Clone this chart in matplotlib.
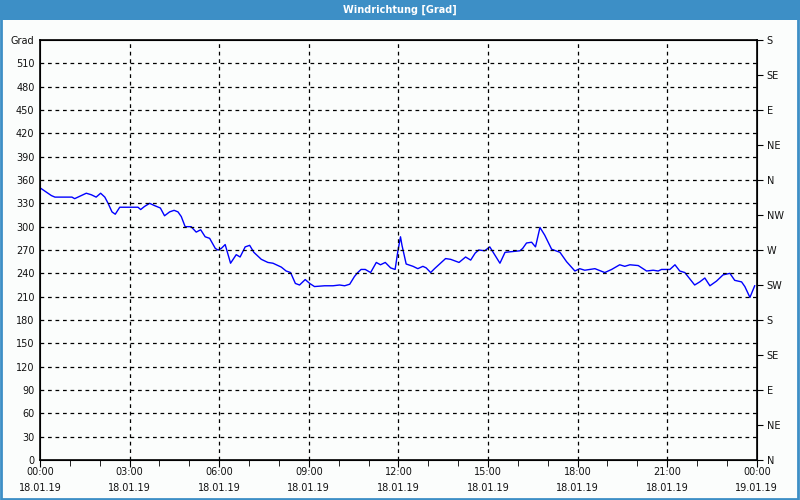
import numpy as np
import matplotlib
matplotlib.use('agg')
import matplotlib.pyplot as plt
from matplotlib.patches import Rectangle

# wind direction samples, hours after 18.01.19 00:00
hours = [0.0, 0.38, 0.50, 1.07, 1.16, 1.55, 1.72, 1.88, 2.03, 2.17, 2.28, 2.41, 2.52, 2.67,
         3.00, 3.28, 3.37, 3.50, 3.67, 3.84, 4.03, 4.17, 4.34, 4.49, 4.62, 4.73, 4.86, 5.06,
         5.23, 5.38, 5.53, 5.68, 5.87, 5.96, 6.07, 6.20, 6.38, 6.57, 6.70, 6.87, 7.02, 7.16,
         7.41, 7.63, 7.80, 8.08, 8.24, 8.39, 8.55, 8.69, 8.88, 9.03, 9.19, 9.53, 9.81, 10.03,
         10.20, 10.37, 10.53, 10.64, 10.75, 10.89, 11.07, 11.26, 11.40, 11.56, 11.74, 11.89,
         11.98, 12.07, 12.12, 12.26, 12.49, 12.65, 12.82, 12.93, 13.08, 13.21, 13.38, 13.58,
         13.75, 14.03, 14.25, 14.42, 14.57, 14.69, 14.89, 15.06, 15.40, 15.57, 16.07, 16.16,
         16.29, 16.46, 16.59, 16.74, 16.90, 17.13, 17.41, 17.63, 17.91, 18.07, 18.24, 18.58,
         18.91, 19.14, 19.41, 19.58, 19.75, 20.03, 20.31, 20.53, 20.70, 20.81, 21.09, 21.26,
         21.42, 21.59, 21.92, 22.09, 22.26, 22.43, 22.65, 22.87, 23.10, 23.26, 23.49, 23.60,
         23.77, 23.93]
grad = [350, 340, 338, 338, 336, 343, 341, 338, 343, 338, 330, 319, 316, 325,
        325, 325, 322, 326, 330, 327, 324, 314, 319, 321, 319, 313, 300, 300,
        293, 296, 287, 285, 272, 270, 272, 277, 253, 264, 261, 274, 276, 267,
        258, 254, 253, 248, 243, 241, 227, 225, 232, 227, 223, 224, 224, 225,
        224, 226, 236, 241, 245, 245, 241, 254, 251, 254, 247, 245,
        268, 287, 276, 252, 249, 246, 249, 247, 241, 246, 252, 259,
        258, 254, 261, 257, 266, 270, 269, 274, 253, 267, 269, 272,
        279, 280, 274, 299, 289, 271, 267, 255, 243, 246, 244, 246,
        241, 245, 251, 249, 251, 250, 243, 244, 243, 245, 245, 251,
        243, 241, 225, 229, 234, 224, 230, 238, 240, 231, 229, 223,
        209, 224]

xticks = list(range(0, 25, 3))
xlabels = ['00:00\n18.01.19', '03:00\n18.01.19', '06:00\n18.01.19', '09:00\n18.01.19',
           '12:00\n18.01.19', '15:00\n18.01.19', '18:00\n18.01.19', '21:00\n18.01.19',
           '00:00\n19.01.19']
yticks = list(range(0, 541, 30))
ylabels = [str(v) for v in yticks[:-1]] + ['Grad']
dir_ticks = list(range(0, 541, 45))
dir_labels = ['N', 'NE', 'E', 'SE', 'S', 'SW', 'W', 'NW', 'N', 'NE', 'E', 'SE', 'S']

bar_blue = '#3d8fc6'
txt = '#111111'

fig = plt.figure(figsize=(8, 5), dpi=100, facecolor='#fbfdfc')
ax = fig.add_axes([0.05, 0.08, 0.896, 0.84])
ax.set_facecolor('#fbfdfc')

ax.plot(hours, grad, color='#0000ff', lw=1)

ax.set_xlim(0, 24)
ax.set_ylim(0, 540)
ax.set_xticks(xticks)
ax.set_xticklabels(xlabels, fontsize=7, color=txt, linespacing=1.75)
ax.set_xticks(range(25), minor=True)
ax.set_yticks(yticks)
ax.set_yticklabels(ylabels, fontsize=7, color=txt)
ax.tick_params(axis='y', length=0, pad=4)
ax.tick_params(axis='x', which='major', length=5, pad=0, color='black')
ax.tick_params(axis='x', which='minor', length=4, color='black')

for v in yticks[1:-1]:
    ax.axhline(v, color='black', lw=0.9, ls=(0, (3, 3)))
for h in xticks[1:-1]:
    ax.axvline(h, color='black', lw=0.9, ls=(0, (3, 3)))

for s in ax.spines.values():
    s.set_color('black')
    s.set_linewidth(1.2)

ax2 = ax.twinx()
ax2.set_ylim(0, 540)
ax2.set_yticks(dir_ticks)
ax2.set_yticklabels(dir_labels, fontsize=7, color=txt)
ax2.tick_params(axis='y', length=4, pad=3, color='black')

# title bar and window frame
fig.patches.append(Rectangle((0, 0.96), 1, 0.04, transform=fig.transFigure,
                             facecolor=bar_blue, edgecolor='none'))
fig.patches.append(Rectangle((0.001, 0.002), 0.997, 0.996, transform=fig.transFigure,
                             facecolor='none', edgecolor=bar_blue, lw=2))
fig.text(0.5, 0.98, 'Windrichtung [Grad]', color='white', fontsize=7, fontweight='bold',
         ha='center', va='center')

fig.savefig('out.png', dpi=100, facecolor=fig.get_facecolor())
